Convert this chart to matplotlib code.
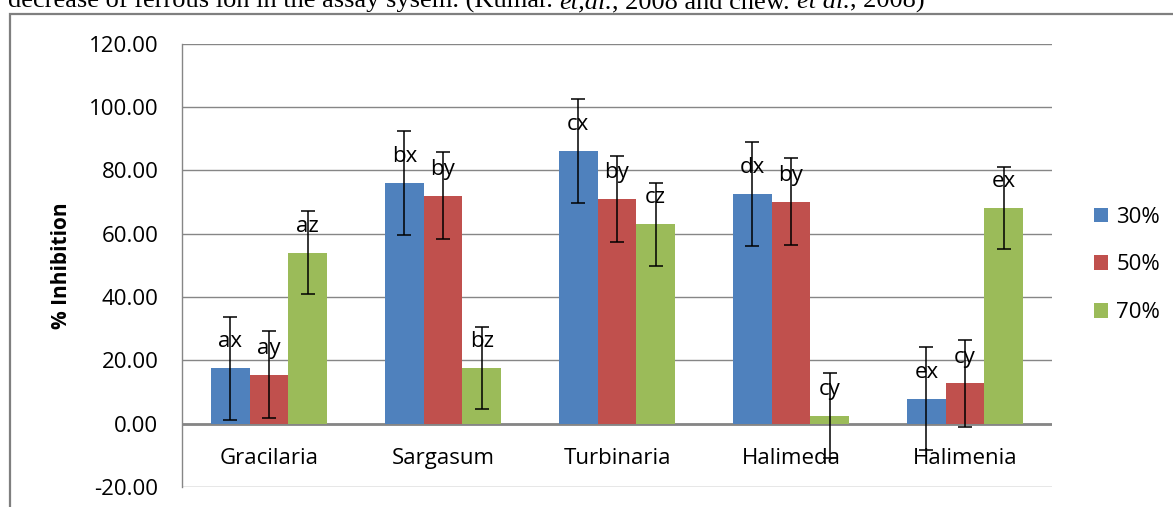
"""Recreate: % Inhibition of seaweed extracts (30/50/70 %) with letter groups."""

import numpy as np
import matplotlib
matplotlib.use("Agg")
import matplotlib.pyplot as plt
from matplotlib.patches import Rectangle

SPECIES = ["Gracilaria", "Sargasum", "Turbinaria", "Halimeda", "Halimenia"]
SERIES = ["30%", "50%", "70%"]

VAL_30 = [17.5, 76.0, 86.1, 72.5, 7.9]
VAL_50 = [15.5, 72.0, 70.9, 70.0, 12.7]
VAL_70 = [54.0, 17.5, 63.0, 2.5, 68.1]

ERR_30 = [16.2, 16.3, 16.4, 16.3, 16.2]
ERR_50 = [13.8, 13.8, 13.7, 13.7, 13.8]
ERR_70 = [13.0, 13.0, 13.1, 13.4, 13.0]

LET_30 = ["ax", "bx", "cx", "dx", "ex"]
LET_50 = ["ay", "by", "by", "by", "cy"]
LET_70 = ["az", "bz", "cz", "cy", "ex"]

COLORS = ["#4F81BD", "#C0504D", "#9BBB59"]
GRID = "#868686"
FONT = "Open Sans"

W, H = 1173, 507
fig = plt.figure(figsize=(W / 100, H / 100), dpi=100)
fig.patch.set_facecolor("white")

# outer frame of the pasted chart
fig.patches.append(Rectangle((10 / W, -0.1), 1.2, 1 - 14 / H + 0.1,
                             transform=fig.transFigure, fill=False,
                             edgecolor="#7F7F7F", linewidth=1.6))

ax = fig.add_axes([182 / W, (H - 487) / H, (1052 - 182) / W, (487 - 43.5) / H])

# cut-off caption line at the top (regular / italic pieces on one baseline)
pieces = [("decrease of ferrous ion in the assay sysem. (Kumar. ", "normal"),
          ("et,al.", "italic"),
          (", 2008 and chew. ", "normal"),
          ("et al.", "italic"),
          (", 2008)", "normal")]
renderer = fig.canvas.get_renderer()
xpos = 8 / W
for txt, style in pieces:
    t = fig.text(xpos, 1 - 8 / H, txt, fontsize=19, family="Liberation Serif",
                 style=style, color="black", va="baseline", ha="left")
    xpos += t.get_window_extent(renderer).width / W

x = np.arange(len(SPECIES))
bw = 1 / 4.5
vals = [VAL_30, VAL_50, VAL_70]
errs = [ERR_30, ERR_50, ERR_70]
lets = [LET_30, LET_50, LET_70]

handles = []
for i in range(3):
    pos = x + (i - 1) * bw
    b = ax.bar(pos, vals[i], bw, yerr=errs[i], color=COLORS[i],
               label=SERIES[i], zorder=3, capsize=5,
               error_kw=dict(elinewidth=1.1, capthick=1.1, ecolor="black",
                             zorder=4))
    handles.append(b)
    for xp, v, lt in zip(pos, vals[i], lets[i]):
        ax.annotate(lt, xy=(xp, v), xytext=(0, 19), textcoords="offset points",
                    ha="center", va="center", fontsize=16, family=FONT,
                    color="black", zorder=5)

for xp, name in zip(x, SPECIES):
    ax.text(xp, -11, name, ha="center", va="center", fontsize=16,
            family=FONT, color="black", zorder=1)

ax.set_xlim(-0.5, len(SPECIES) - 0.5)
ax.set_ylim(-20, 120)
ax.set_yticks(np.arange(-20, 121, 20))
ax.set_yticklabels([f"{t:.2f}" for t in np.arange(-20, 121, 20)],
                   fontsize=16, family=FONT)
ax.set_xticks([])
ax.tick_params(axis="y", length=0, pad=17)
ax.set_axisbelow(True)
ax.yaxis.grid(True, color=GRID, linewidth=1.0)
ax.axhline(0, color=GRID, linewidth=2.0, zorder=2)
for s in ["top", "right", "bottom"]:
    ax.spines[s].set_visible(False)
ax.spines["left"].set_color(GRID)
ax.spines["left"].set_linewidth(1.0)
ax.set_ylabel("% Inhibition", fontsize=15, family=FONT, fontweight="bold",
              labelpad=12)

fig.legend(handles=handles, labels=SERIES, loc="center left",
           bbox_to_anchor=(1094 / W, 1 - 265 / H), frameon=False,
           prop=dict(family=FONT, size=16), borderpad=0, borderaxespad=0,
           handlelength=0.65, handleheight=0.65, handletextpad=0.35,
           labelspacing=1.2)

fig.savefig("out.png", dpi=100, facecolor="white")
